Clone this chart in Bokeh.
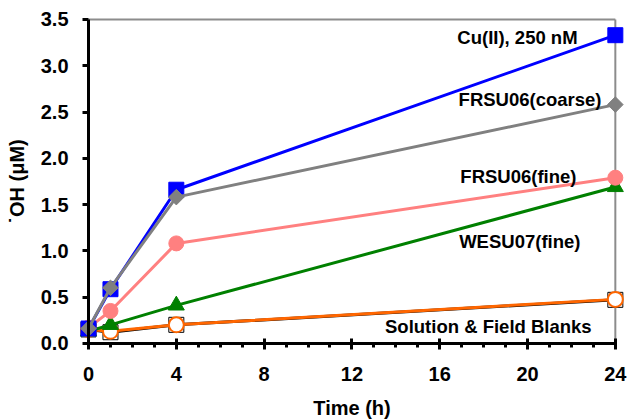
from bokeh.plotting import figure
from bokeh.models import Range1d, Label, FixedTicker
from bokeh.embed import file_html
from bokeh.resources import INLINE

# ---- data ----
time_h = [0, 1, 4, 24]
cu_250nM = [0.16, 0.585, 1.66, 3.33]
frsu06_coarse = [0.16, 0.60, 1.58, 2.58]
frsu06_fine = [0.17, 0.35, 1.08, 1.79]
wesu07_fine = [0.13, 0.20, 0.41, 1.69]
solution_blank = [0.15, 0.12, 0.20, 0.47]
field_blank = [0.15, 0.13, 0.20, 0.475]

x_major_ticks = [0, 4, 8, 12, 16, 20, 24]
y_major_ticks = [0.0, 0.5, 1.0, 1.5, 2.0, 2.5, 3.0, 3.5]
y_tick_labels = {v: f"{v:.1f}" for v in y_major_ticks}

series_labels = ["Cu(II), 250 nM", "FRSU06(coarse)", "FRSU06(fine)",
                 "WESU07(fine)", "Solution & Field Blanks"]
label_x = [22.28, 23.37, 22.23, 22.41, 22.92]
label_y = [3.31, 2.63, 1.80, 1.105, 0.18]

FONT = "Liberation Sans"

p = figure(width=628, height=420, output_backend="svg", toolbar_location=None,
           x_range=Range1d(-4.01, 24.60), y_range=Range1d(-0.834, 3.705),
           min_border=0)
p.outline_line_color = None
p.grid.visible = False
p.background_fill_color = "white"

# gray frame (top/right)
x_max = x_major_ticks[-1]
y_max = y_major_ticks[-1]
p.segment(x0=[x_major_ticks[0], x_max], y0=[y_max, y_major_ticks[0]],
          x1=[x_max, x_max], y1=[y_max, y_max],
          line_color="#8c8c8c", line_width=2)

# blanks
p.line(time_h, solution_blank, line_color="black", line_width=3)
p.scatter(time_h, solution_blank, marker="square", size=15,
          fill_color="white", line_color="black", line_width=1)
p.line(time_h, field_blank, line_color="#FF6600", line_width=3)
p.scatter(time_h, field_blank, marker="circle", size=15,
          fill_color="white", line_color="#FF6600", line_width=2)

# WESU07 fine
p.line(time_h, wesu07_fine, line_color="#008000", line_width=3)
p.scatter(time_h, wesu07_fine, marker="triangle", size=16,
          fill_color="#008000", line_color="#008000")

# FRSU06 fine
p.line(time_h, frsu06_fine, line_color="#FF8080", line_width=3)
p.scatter(time_h, frsu06_fine, marker="circle", size=15,
          fill_color="#FF8080", line_color="#FF8080")

# Cu(II)
p.line(time_h, cu_250nM, line_color="#0000FF", line_width=3)
p.scatter(time_h, cu_250nM, marker="square", size=15,
          fill_color="#0000FF", line_color="#0000FF")

# FRSU06 coarse
p.line(time_h, frsu06_coarse, line_color="#808080", line_width=3)
p.scatter(time_h, frsu06_coarse, marker="square", size=11, angle=0.785398,
          fill_color="#808080", line_color="#808080")

# axes
for ax in (p.xaxis[0], p.yaxis[0]):
    ax.fixed_location = 0
    ax.axis_line_width = 3
    ax.axis_line_color = "black"
    ax.major_tick_line_width = 3
    ax.minor_tick_line_width = 3
    ax.major_label_text_font = FONT
    ax.major_label_text_font_style = "bold"
    ax.major_label_text_font_size = "20px"
    ax.major_label_text_color = "black"
    ax.axis_label_text_font = FONT
    ax.axis_label_text_font_style = "bold"
    ax.axis_label_text_font_size = "20px"
    ax.axis_label_text_color = "black"

xa = p.xaxis[0]
xa.bounds = (0, 24)
xa.ticker = FixedTicker(ticks=x_major_ticks, minor_ticks=list(range(0, 25)))
xa.major_tick_in = 5
xa.major_tick_out = 6
xa.minor_tick_in = 0
xa.minor_tick_out = 4
xa.major_label_standoff = 18
xa.axis_label = "Time (h)"
xa.axis_label_standoff = 12

ya = p.yaxis[0]
ya.bounds = (0, 3.5)
ya.ticker = FixedTicker(ticks=y_major_ticks, minor_ticks=[])
ya.major_label_overrides = y_tick_labels
ya.major_tick_in = 0
ya.major_tick_out = 6
ya.major_label_standoff = 14
ya.axis_label = "\u02d9OH (\u03bcM)"
ya.axis_label_standoff = 10

for txt, lx, ly in zip(series_labels, label_x, label_y):
    p.add_layout(Label(x=lx, y=ly, text=txt, text_align="right",
                       text_baseline="middle", text_font=FONT,
                       text_font_style="bold", text_font_size="18.5px",
                       text_color="black"))

open("out.html", "w").write(file_html(p, INLINE))
